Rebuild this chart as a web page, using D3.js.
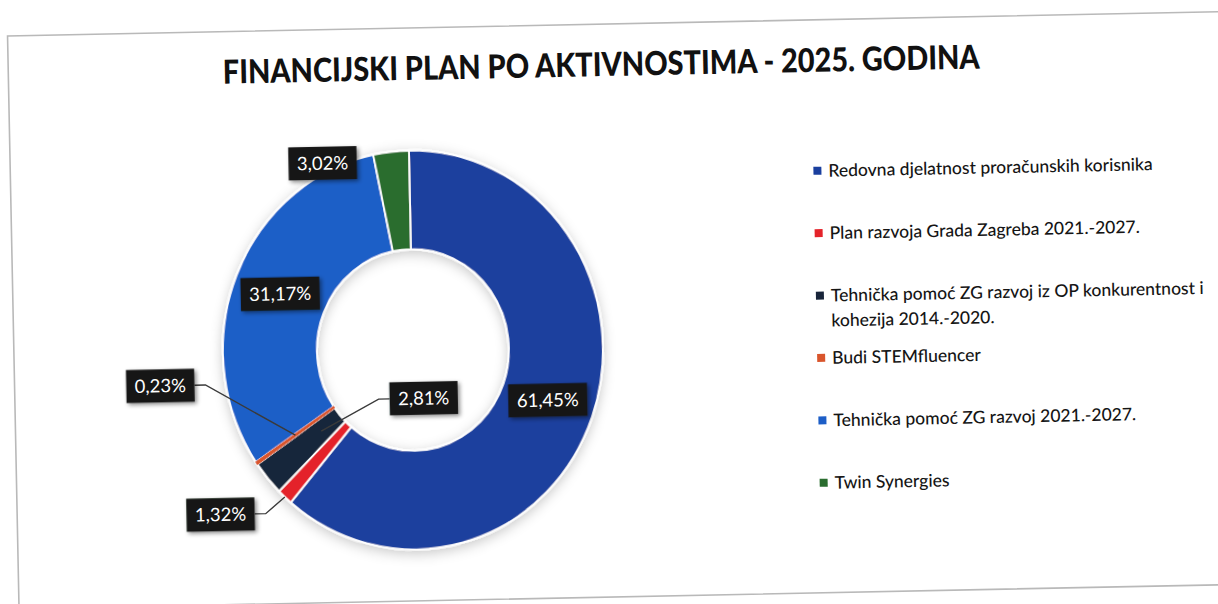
<!DOCTYPE html>
<html><head><meta charset="utf-8">
<script src="https://cdn.jsdelivr.net/npm/d3@7"></script>
<style>html,body{margin:0;padding:0;background:#fff;} svg{display:block;}</style>
</head><body>
<svg id="chart" width="1218" height="604"></svg>
<script>
const title = "FINANCIJSKI PLAN PO AKTIVNOSTIMA - 2025. GODINA";
const categories = [
  "Redovna djelatnost proračunskih korisnika",
  "Plan razvoja Grada Zagreba 2021.-2027.",
  "Tehnička pomoć ZG razvoj iz OP konkurentnost i kohezija 2014.-2020.",
  "Budi STEMfluencer",
  "Tehnička pomoć ZG razvoj 2021.-2027.",
  "Twin Synergies"
];
const values = [61.45, 1.32, 2.81, 0.23, 31.17, 3.02];
const valueLabels = ["61,45%", "1,32%", "2,81%", "0,23%", "31,17%", "3,02%"];
const colors = ["#1a3f9e", "#e4232a", "#18253a", "#d9552c", "#1d5ec7", "#2a6d2f"];

// layout / style config
const cx = 412, cy = 346, rOut = 190, rIn = 96, yStretch = 1.05;
// label offsets from slice centroid (null = at centroid), leader type
const labelCfg = [
  null,
  {dx: -97, dy: 52, side: "right", leadR: 190},
  {dx: 121, dy: -46, side: "left", leadR: 120},
  {dx: -134, dy: -52, side: "right", leadR: 143},
  null,
  {dx: -73, dy: -39, side: null}
];

const svg = d3.select("#chart");
const defs = svg.append("defs");
const sh = defs.append("filter").attr("id","glow").attr("x","-20%").attr("y","-20%").attr("width","140%").attr("height","140%");
sh.append("feDropShadow").attr("dx",0).attr("dy",3).attr("stdDeviation",6).attr("flood-color","#000").attr("flood-opacity",0.22);
const bs = defs.append("filter").attr("id","boxsh").attr("x","-30%").attr("y","-30%").attr("width","160%").attr("height","160%");
bs.append("feDropShadow").attr("dx",2).attr("dy",2).attr("stdDeviation",2).attr("flood-color","#000").attr("flood-opacity",0.45);

const root = svg.append("g").attr("transform","rotate(-1.15,609,302)");

// frame
root.append("rect").attr("x",13).attr("y",24).attr("width",1260).attr("height",573)
  .attr("fill","none").attr("stroke","#b9b9b9").attr("stroke-width",1.6);

// title
root.append("text").attr("x",606).attr("y",76).attr("text-anchor","middle")
  .attr("font-family","Lato, 'Open Sans', sans-serif").attr("font-weight",900).attr("font-size",33)
  .attr("fill","#111").attr("textLength",757).attr("lengthAdjust","spacingAndGlyphs")
  .text(title);

// donut
const pie = d3.pie().sort(null).value(d => d);
const arcs = pie(values);
const arc = d3.arc().innerRadius(rIn).outerRadius(rOut);
const donut = root.append("g").attr("transform",`translate(${cx},${cy}) scale(1,${yStretch})`);
const slices = donut.append("g").attr("filter","url(#glow)");
slices.selectAll("path").data(arcs).join("path")
  .attr("d", arc).attr("fill",(d,i)=>colors[i])
  .attr("stroke","#fff").attr("stroke-width",1.8).attr("stroke-linejoin","round");
// keep the thinnest slice visible over the separators
slices.append("path").datum(arcs[3]).attr("d", arc).attr("fill",colors[3])
  .attr("stroke",colors[3]).attr("stroke-width",1.1);

// helpers
function pt(a, r){ return [cx + r*Math.sin(a), cy - r*Math.cos(a)*yStretch]; }
const labG = root.append("g");
const lineG = labG.append("g");
const boxG = labG.append("g");
arcs.forEach((d,i) => {
  const mid = (d.startAngle + d.endAngle)/2;
  const c = pt(mid, (rIn+rOut)/2);
  const cfg = labelCfg[i];
  const lx = c[0] + (cfg ? cfg.dx : 0), ly = c[1] + (cfg ? cfg.dy : 0);
  const g = boxG.append("g");
  const t = g.append("text").attr("x",lx).attr("y",ly).attr("dy","0.35em").attr("text-anchor","middle")
    .attr("font-family","Lato, 'Open Sans', sans-serif").attr("font-size",18.5).attr("fill","#fff")
    .text(valueLabels[i]);
  const w = t.node().getComputedTextLength() + 17, h = 33;
  g.insert("rect","text").attr("x",lx - w/2).attr("y",ly - h/2).attr("width",w).attr("height",h)
    .attr("fill","#141816").attr("filter","url(#boxsh)");
  if (cfg && cfg.side) {
    const sx = cfg.side === "right" ? lx + w/2 : lx - w/2;
    const kx = cfg.side === "right" ? sx + 11 : sx - 11;
    const e = pt(mid, cfg.leadR);
    lineG.append("polyline").attr("points",`${sx},${ly} ${kx},${ly} ${e[0]},${e[1]}`)
      .attr("fill","none").attr("stroke","#3a3a3a").attr("stroke-width",1.4);
  }
});

// legend
const legG = root.append("g").attr("font-family","Lato, 'Open Sans', sans-serif").attr("font-size",17.5).attr("fill","#151515");
const legY = d3.range(categories.length).map(i => 175 + i*62.4);
categories.forEach((name,i) => {
  const y = legY[i];
  legG.append("rect").attr("x",816).attr("y",y-4).attr("width",8).attr("height",8).attr("fill",colors[i]);
  const t = legG.append("text").attr("x",831).attr("y",y).attr("font-weight",500);
  const words = name.split(" ");
  let line = [], lines = [];
  const probe = legG.append("text").attr("font-weight",500).attr("visibility","hidden");
  words.forEach(wd => {
    const test = line.concat([wd]).join(" ");
    probe.text(test);
    if (probe.node().getComputedTextLength() > 392 && line.length) { lines.push(line.join(" ")); line = [wd]; }
    else line.push(wd);
  });
  lines.push(line.join(" "));
  probe.remove();
  lines.forEach((ln,k) => t.append("tspan").attr("x",831).attr("dy", k===0 ? "0.35em" : "25").text(ln));
});
</script>
</body></html>
